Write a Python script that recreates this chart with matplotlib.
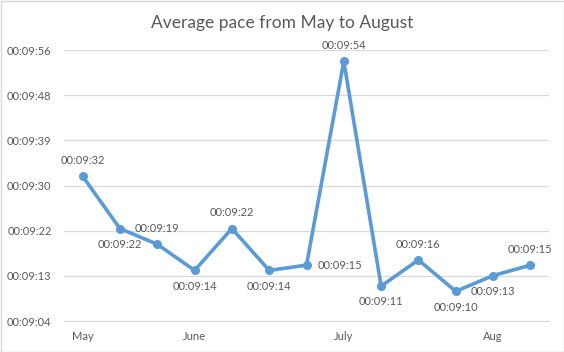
import matplotlib
matplotlib.use("Agg")
import matplotlib.pyplot as plt
from matplotlib.patches import Rectangle

# data: average pace in seconds (mm:ss)
pace_seconds = [572, 562, 559, 554, 562, 554, 555, 594, 551, 556, 550, 553, 555]
month_labels = ["May", "June", "July", "Aug"]
month_positions = [0, 3, 7, 11]
label_placement = ["above", "below", "above", "below", "above", "below", "right",
                   "above", "below", "above", "below", "below", "above"]
# Excel-style axis ticks: multiples of 0.0001 day (8.64 s)
tick_days = [0.0063, 0.0064, 0.0065, 0.0066, 0.0067, 0.0068, 0.0069]

def fmt(sec):
    s = int(round(sec))
    return "00:%02d:%02d" % (s // 60, s % 60)

plt.rcParams['font.family'] = ['Lato', 'DejaVu Sans']
txt = '#595959'
line_c = '#5B9BD5'
fs = 8

fig = plt.figure(figsize=(5.64, 3.52), dpi=100)
ax = fig.add_axes([64/564, 1-321/352, (549-64)/564, (321-50)/352])

x = list(range(len(pace_seconds)))
ax.plot(x, pace_seconds, color=line_c, lw=2.6, marker='o', ms=5.5, solid_joinstyle='round')

ticks = [d * 86400 for d in tick_days]
ax.set_ylim(ticks[0], ticks[-1])
ax.set_yticks(ticks)
ax.set_yticklabels([fmt(t) for t in ticks])
ax.set_xlim(-0.5, len(pace_seconds) - 0.5)
ax.set_xticks(month_positions)
ax.set_xticklabels(month_labels)
ax.grid(axis='y', color='#D9D9D9', lw=0.9)
ax.set_axisbelow(True)
for s in ax.spines.values():
    s.set_visible(False)
ax.spines['bottom'].set_visible(True)
ax.spines['bottom'].set_color('#D9D9D9')
ax.tick_params(axis='both', length=0, labelsize=fs, colors=txt)
ax.tick_params(axis='y', pad=9)
ax.tick_params(axis='x', pad=7)

for xi, v, pl in zip(x, pace_seconds, label_placement):
    if pl == 'above':
        ax.annotate(fmt(v), (xi, v), xytext=(0, 7.5), textcoords='offset points',
                    ha='center', va='bottom', fontsize=fs, color=txt)
    elif pl == 'below':
        ax.annotate(fmt(v), (xi, v), xytext=(0, -7.5), textcoords='offset points',
                    ha='center', va='top', fontsize=fs, color=txt)
    else:
        ax.annotate(fmt(v), (xi, v), xytext=(8, 0), textcoords='offset points',
                    ha='left', va='center', fontsize=fs, color=txt)

fig.text(0.5, 1-23/352, "Average pace from May to August", ha='center', va='center',
         fontsize=12.5, color=txt)
fig.patches.append(Rectangle((0.5/564, 0.5/352), 1-1/564, 1-1/352, transform=fig.transFigure,
                             fill=False, edgecolor='#D9D9D9', lw=1))
fig.savefig("out.png", dpi=100)
